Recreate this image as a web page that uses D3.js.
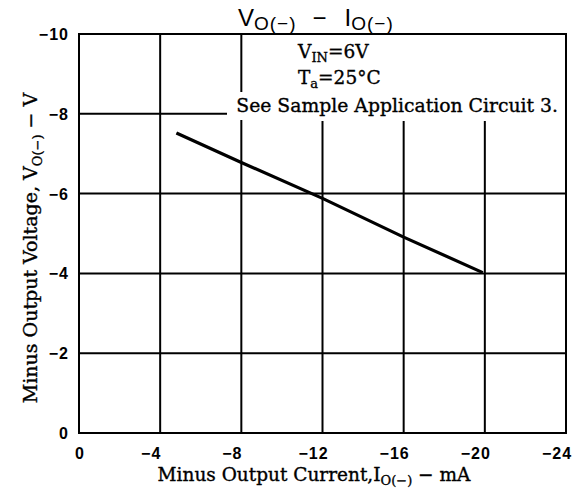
<!DOCTYPE html>
<html>
<head>
<meta charset="utf-8">
<script src="https://cdn.jsdelivr.net/npm/d3@7"></script>
<style>
  html, body { margin: 0; padding: 0; background: #fff; }
  svg { display: block; }
  .serif { font-family: "DejaVu Serif", serif; fill: #000; stroke: #000; stroke-width: 0.35px; }
  .tick-lbl { font-family: "Liberation Sans", Arial, sans-serif; font-weight: bold; font-size: 16px; fill: #000; }
</style>
</head>
<body>
<div id="chart"></div>
<script>
/* Vo(-) vs Io(-) — minus output voltage against minus output current */

const currentTicks = [0, -4, -8, -12, -16, -20, -24];   // mA
const voltageTicks = [0, -2, -4, -6, -8, -10];           // V

// curve
const currentMA = [-4.8, -8, -12, -16, -19.9];
const voltageV  = [-7.52, -6.78, -5.88, -4.91, -4.02];

const W = 582, H = 488;
const M = { left: 79, top: 34, right: 16, bottom: 55 };
const iw = W - M.left - M.right, ih = H - M.top - M.bottom;

const svg = d3.select('#chart').append('svg')
  .attr('width', W).attr('height', H);

const x = d3.scaleLinear().domain([0, -24]).range([M.left, M.left + iw]);
const y = d3.scaleLinear().domain([0, -10]).range([M.top + ih, M.top]);

/* ---- grid ---------------------------------------------------------------- */
const g = svg.append('g');
g.selectAll('line.vg').data(currentTicks.slice(1, -1)).enter().append('line')
  .attr('x1', d => x(d)).attr('x2', d => x(d))
  .attr('y1', y(-10)).attr('y2', y(0))
  .attr('stroke', '#000').attr('stroke-width', 2);
g.selectAll('line.hg').data(voltageTicks.slice(1, -1)).enter().append('line')
  .attr('x1', x(0)).attr('x2', x(-24))
  .attr('y1', d => y(d)).attr('y2', d => y(d))
  .attr('stroke', '#000').attr('stroke-width', 2);

/* ---- curve --------------------------------------------------------------- */
const line = d3.line().x(d => x(d[0])).y(d => y(d[1]));
svg.append('path')
  .datum(d3.zip(currentMA, voltageV))
  .attr('d', line)
  .attr('fill', 'none').attr('stroke', '#000').attr('stroke-width', 3.2);

/* ---- annotation (white box hides grid behind it) ------------------------- */
svg.append('rect').attr('x', 252).attr('y', M.top + 1)
  .attr('width', x(-24) - 252 - 1).attr('height', 86).attr('fill', '#fff');
svg.append('rect').attr('x', 227).attr('y', 92)
  .attr('width', x(-24) - 227 - 1).attr('height', 28).attr('fill', '#fff');

const t1 = svg.append('text').attr('class', 'serif').attr('x', 298).attr('y', 58).attr('font-size', 18.5);
t1.append('tspan').text('V');
t1.append('tspan').attr('font-size', 13).attr('dy', 4).text('IN');
t1.append('tspan').attr('dy', -4).text('=6V');

const t2 = svg.append('text').attr('class', 'serif').attr('x', 298).attr('y', 84).attr('font-size', 18.5);
t2.append('tspan').text('T');
t2.append('tspan').attr('font-size', 13).attr('dy', 4).text('a');
t2.append('tspan').attr('dy', -4).text('=25°C');

svg.append('text').attr('class', 'serif').attr('x', 558).attr('y', 112)
  .attr('font-size', 18.8).attr('text-anchor', 'end')
  .text('See Sample Application Circuit 3.');

/* ---- frame --------------------------------------------------------------- */
svg.append('rect')
  .attr('x', x(0)).attr('y', y(-10))
  .attr('width', x(-24) - x(0)).attr('height', y(0) - y(-10))
  .attr('fill', 'none').attr('stroke', '#000').attr('stroke-width', 2);

/* ---- tick labels --------------------------------------------------------- */
const fmt = d => d < 0 ? '\u2212' + Math.abs(d) : String(d);
svg.selectAll('text.xt').data(currentTicks).enter().append('text')
  .attr('class', 'tick-lbl')
  .attr('x', d => x(d) + (d < 0 ? -9 : 1)).attr('y', 459)
  .attr('text-anchor', 'middle').attr('letter-spacing', 1)
  .text(fmt);
svg.selectAll('text.yt').data(voltageTicks).enter().append('text')
  .attr('class', 'tick-lbl')
  .attr('x', 69).attr('y', d => y(d) + 6)
  .attr('text-anchor', 'end').attr('letter-spacing', 1)
  .text(fmt);

/* ---- axis titles --------------------------------------------------------- */
const xt = svg.append('text').attr('class', 'serif')
  .attr('x', 314).attr('y', 481).attr('font-size', 18.5).attr('text-anchor', 'middle');
xt.append('tspan').text('Minus Output Current,I');
xt.append('tspan').attr('font-size', 13).attr('dy', 4).text('O(\u2212)');
xt.append('tspan').attr('dy', -4).text(' \u2212 mA');

const yt = svg.append('text').attr('class', 'serif')
  .attr('transform', 'translate(37,248) rotate(-90)')
  .attr('font-size', 19).attr('text-anchor', 'middle');
yt.append('tspan').text('Minus Output Voltage, V');
yt.append('tspan').attr('font-size', 13).attr('dy', 5).text('O(\u2212)');
yt.append('tspan').attr('dy', -5).text(' \u2212 V');

/* ---- title --------------------------------------------------------------- */
const tt = svg.append('text')
  .attr('x', 238).attr('y', 26)
  .attr('font-family', '"Liberation Sans", Arial, sans-serif').attr('font-size', 24);
tt.append('tspan').text('V');
tt.append('tspan').attr('font-size', 19).attr('dy', 4).attr('letter-spacing', 1).text('O(\u2212)');
tt.append('tspan').attr('dy', -4).attr('dx', 16).text('\u2212');
tt.append('tspan').attr('dx', 18).text('I');
tt.append('tspan').attr('font-size', 19).attr('dy', 4).attr('letter-spacing', 1).text('O(\u2212)');
</script>
</body>
</html>
